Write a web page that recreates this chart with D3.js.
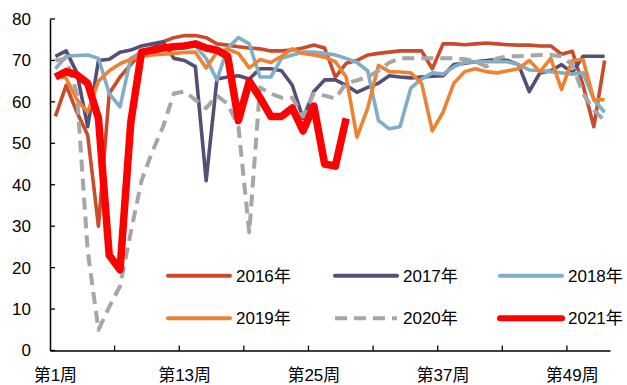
<!DOCTYPE html>
<html><head><meta charset="utf-8">
<script src="https://cdn.jsdelivr.net/npm/d3@7"></script>
<style>
html,body{margin:0;padding:0;background:#fff;}
text{font-family:"Liberation Sans",Arial,"Noto Sans CJK SC",sans-serif;fill:#000;}
</style></head>
<body><svg id="c" width="627" height="385"></svg>
<script>
const weeks = d3.range(1, 53);
const xLabels = ["第1周","第13周","第25周","第37周","第49周"];
const labelWeeks = [1,13,25,37,49];
const yTicks = [0,10,20,30,40,50,60,70,80];
const seriesNames = ["2016年","2017年","2018年","2019年","2020年","2021年"];

const s2016 = [56.5,64,57.5,52,30,62,66,69,72,73,74.5,75.5,76,76,75.5,74,73.7,73.3,73,72.8,72.3,72.3,72.5,73,73.7,73,66,69.3,70,71.3,71.7,72,72.3,72.3,72.3,68,74,74,73.8,74,74.2,74,73.8,73.7,73.7,73.5,73.5,71.5,72.2,64,54,70];
const s2017 = [71,72.3,67,54,70,70.3,72,72.5,73.5,74,74.5,70.5,70,68.5,41,65.5,66,66.3,65.5,68,68,67.5,64,56,62.5,65.3,65.3,64,62.3,63.5,64.5,66.3,66,65.8,66,66.2,66.3,69,69.3,69.7,70,70.2,70,69,62.5,67,67.5,69,67,71,71,71];
const s2018 = [68,71,71.2,71.3,70.5,62,58.8,70.5,72,72.3,72.6,73,73.3,73.5,70.5,65.3,73,75.5,74,66,66,70.5,71.3,72,72,71.7,71.3,70.5,69.5,67.5,55.5,53.5,54,63.3,65.5,67,66.7,68.5,69.5,69.7,69.7,69.7,69.7,69,67.7,67.5,67.3,67,66.7,67,60.5,57.5];
const s2019 = [66.5,65.7,60.5,57.5,65,67.5,69.2,70.3,71,71.3,71.5,71.7,71.9,72,68.2,72,72.7,71.7,68.2,70.2,69.5,71,72.8,71.7,71.3,70.8,69.7,66,51.5,58.5,68.8,67.3,67.2,67,64.5,53,57.5,64.5,67.3,68,67.3,67,67.5,68,70,67.3,70.5,63,70,70.2,60.5,60.5];
const s2020 = [70,70.5,62,24,5,10.5,15.5,28.5,41,48,54,62,62.5,60.5,58.5,61.5,59.5,54,28.5,63.5,62,61,61,56.5,62,61.5,60.8,64.5,65.2,66,67.5,69.5,70.5,70.5,70.5,70.5,70.5,70.5,70.3,69.8,68.5,70.5,71,71,71.2,71.3,71.3,71,69,62,58,55.5];
const s2021 = [66,67.3,66.5,64.5,56,23,19.5,55,72,72.5,73,73.3,73.5,74,73,72.5,71,55.5,65,61,56.5,56.5,58.5,53,59,45,44.5,56];

const seriesValues = [s2016,s2017,s2018,s2019,s2020,s2021];
const colors = ["#C94B2B","#564E74","#7FAEC6","#EE8233","#A6A6A6","#FF0000"];
const widths = [3.6,3.6,3.6,3.6,4,7.5];
const dashes = [null,null,null,null,"12,7",null];

const svg = d3.select("#c");
const x = d3.scaleBand().domain(weeks).range([50,610]).padding(0);
const y = d3.scaleLinear().domain([0,80]).range([350.5,19]);
const cx = w => x(w) + x.bandwidth()/2;

// y axis
const ya = svg.append("g").attr("transform","translate(50,0)")
  .call(d3.axisLeft(y).tickValues(yTicks).tickSize(0).tickPadding(19));
ya.select(".domain").attr("stroke","#000").attr("stroke-width",1.5);
ya.selectAll("text").attr("font-size",17);
svg.append("g").selectAll("line").data(yTicks).join("line")
  .attr("x1",50).attr("x2",55).attr("y1",d=>y(d)).attr("y2",d=>y(d))
  .attr("stroke","#000").attr("stroke-width",1.3);

// x axis
const xa = svg.append("g").attr("transform","translate(0,350.5)")
  .call(d3.axisBottom(x).tickValues(labelWeeks).tickSize(0).tickPadding(18)
    .tickFormat((d,i)=>xLabels[i]));
xa.select(".domain").attr("stroke","#000").attr("stroke-width",1.5);
xa.selectAll("text").attr("font-size",17);
const bounds = d3.range(6,52,6);
svg.append("g").selectAll("line").data(bounds).join("line")
  .attr("x1",d=>x(d+1)).attr("x2",d=>x(d+1)).attr("y1",350.5).attr("y2",345.5)
  .attr("stroke","#000").attr("stroke-width",1.3);

// lines
const line = d3.line().x((d,i)=>cx(weeks[i])).y(d=>y(d));
seriesValues.forEach((vals,k)=>{
  svg.append("path").datum(vals).attr("d",line)
    .attr("fill","none").attr("stroke",colors[k]).attr("stroke-width",widths[k])
    .attr("stroke-linejoin","round")
    .attr("stroke-dasharray",dashes[k]);
});

// legend
const legX = [168,335,500];
const legY = [275.7,318.3];
seriesNames.forEach((n,k)=>{
  const lx = legX[k%3], ly = legY[Math.floor(k/3)];
  svg.append("line").attr("x1",lx).attr("x2",lx+62).attr("y1",ly).attr("y2",ly)
    .attr("stroke",colors[k]).attr("stroke-width",k===5?6:4)
    .attr("stroke-linecap", k===4 ? "butt" : "round")
    .attr("stroke-dasharray",dashes[k]);
  svg.append("text").attr("x",lx+68).attr("y",ly).attr("dy","0.36em")
    .attr("font-size",17).text(n);
});
</script></body></html>
